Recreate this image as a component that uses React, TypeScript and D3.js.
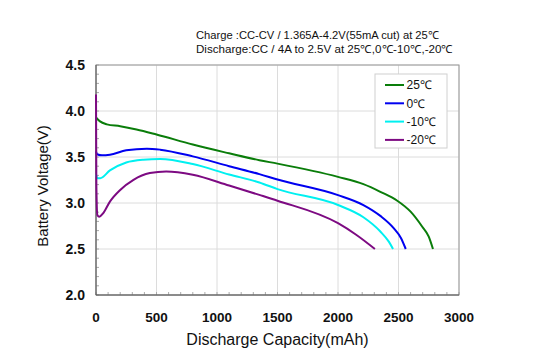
import React from "react";
import * as d3 from "d3";

const W = 550;
const H = 361;
const m = { left: 96, right: 459, top: 65, bottom: 295 };

const xTicks = [0, 500, 1000, 1500, 2000, 2500, 3000];
const yTicks = [2.0, 2.5, 3.0, 3.5, 4.0, 4.5];

const titleLines = [
  "Charge :CC-CV / 1.365A-4.2V(55mA cut) at 25℃",
  "Discharge:CC / 4A to 2.5V at 25℃,0℃-10℃,-20℃",
];
const titleWidths = [243, 257];

const seriesNames = ["25℃", "0℃", "-10℃", "-20℃"];
const seriesColors = ["#0a7d0a", "#0000f0", "#00f0f0", "#7d0a82"];

const green: [number, number][] = [
  [0, 3.93], [30, 3.89], [90, 3.855], [200, 3.835], [335, 3.8], [500, 3.745],
  [800, 3.635], [1100, 3.54], [1350, 3.465], [1500, 3.428], [2000, 3.284],
  [2210, 3.205], [2350, 3.122], [2490, 3.025], [2600, 2.906], [2695, 2.745],
  [2750, 2.635], [2785, 2.5],
];
const blue: [number, number][] = [
  [0, 3.56], [10, 3.53], [50, 3.518], [115, 3.525], [250, 3.573], [420, 3.591],
  [530, 3.58], [800, 3.507], [1100, 3.4], [1350, 3.314], [1500, 3.255],
  [2000, 3.086], [2210, 2.978], [2350, 2.86], [2460, 2.727], [2520, 2.62],
  [2560, 2.5],
];
const cyan: [number, number][] = [
  [0, 3.31], [12, 3.27], [35, 3.27], [115, 3.354], [250, 3.44], [390, 3.47],
  [530, 3.478], [800, 3.423], [1100, 3.31], [1350, 3.223], [1500, 3.151],
  [2000, 2.978], [2210, 2.845], [2350, 2.69], [2420, 2.58], [2455, 2.5],
];
const purple: [number, number][] = [
  [0, 4.18], [3, 3.2], [11, 2.87], [27, 2.85], [60, 2.89], [115, 3.015],
  [200, 3.142], [310, 3.252], [445, 3.325], [580, 3.343], [800, 3.307],
  [1100, 3.19], [1350, 3.088], [1500, 3.025], [2000, 2.78], [2150, 2.655],
  [2305, 2.5],
];
const series = [green, blue, cyan, purple];

const x = d3.scaleLinear().domain([0, 3000]).range([m.left, m.right]);
const y = d3.scaleLinear().domain([2.0, 4.5]).range([m.bottom, m.top]);

const path = d3
  .line<[number, number]>()
  .x((d) => x(d[0]))
  .y((d) => y(d[1]))
  .curve(d3.curveMonotoneX);

export default function App() {
  const font = "'Liberation Sans', Arial, sans-serif";
  const xMinor = d3.range(0, 3001, 100);
  const yMinor = d3.range(2.0, 4.5001, 0.1);
  return (
    <div style={{ position: "absolute", left: 0, top: 0 }}>
      <svg width={W} height={H} style={{ display: "block", background: "#fff" }} fontFamily={font}>
        {titleLines.map((t, i) => (
          <text
            key={t}
            x={196}
            y={39 + i * 14}
            fontSize={11}
            fill="#111"
            textLength={titleWidths[i]}
            lengthAdjust="spacingAndGlyphs"
          >
            {t}
          </text>
        ))}
        {/* grid */}
        {xTicks.map((t) => (
          <line key={"gx" + t} x1={x(t)} x2={x(t)} y1={m.top} y2={m.bottom} stroke="#dcdcdc" />
        ))}
        {yTicks.map((t) => (
          <line key={"gy" + t} x1={m.left} x2={m.right} y1={y(t)} y2={y(t)} stroke="#dcdcdc" />
        ))}
        {/* minor ticks */}
        {xMinor.map((t) => (
          <line key={"mx" + t} x1={x(t)} x2={x(t)} y1={m.bottom} y2={m.bottom - 3} stroke="#aaa" />
        ))}
        {yMinor.map((t) => (
          <line key={"my" + t.toFixed(1)} x1={m.left} x2={m.left + 3} y1={y(t)} y2={y(t)} stroke="#aaa" />
        ))}
        {/* frame */}
        <rect x={m.left} y={m.top} width={m.right - m.left} height={m.bottom - m.top} fill="none" stroke="#999" />
        <line x1={m.left} x2={m.left} y1={m.top} y2={m.bottom} stroke="#555" />
        <line x1={m.left} x2={m.right} y1={m.bottom} y2={m.bottom} stroke="#555" />
        {/* curves */}
        {series.map((s, i) => (
          <path key={seriesNames[i]} d={path(s) || ""} fill="none" stroke={seriesColors[i]} strokeWidth={2} />
        ))}
        {/* tick labels */}
        {yTicks.map((t) => (
          <text key={"ty" + t} x={85} y={y(t)} dy="0.36em" textAnchor="end" fontSize={14} fontWeight="bold" fill="#111">
            {t.toFixed(1)}
          </text>
        ))}
        {xTicks.map((t) => (
          <text key={"tx" + t} x={x(t)} y={322} textAnchor="middle" fontSize={13.5} fontWeight="bold" fill="#111">
            {t}
          </text>
        ))}
        <text x={(m.left + m.right) / 2} y={345} textAnchor="middle" fontSize={16} fill="#111">
          Discharge Capacity(mAh)
        </text>
        <text transform={`translate(48,186) rotate(-90)`} textAnchor="middle" fontSize={15} fill="#111">
          Battery Voltage(V)
        </text>
        {/* legend */}
        <rect x={375} y={74} width={72} height={74} fill="#fff" stroke="#d0d0d0" />
        {seriesNames.map((n, i) => (
          <g key={"lg" + n} transform={`translate(0,${85 + i * 18.3})`}>
            <line x1={385} x2={404} y1={0} y2={0} stroke={seriesColors[i]} strokeWidth={2} />
            <text x={406.5} y={0} dy="0.36em" fontSize={12} fill="#111">
              {n}
            </text>
          </g>
        ))}
      </svg>
    </div>
  );
}
